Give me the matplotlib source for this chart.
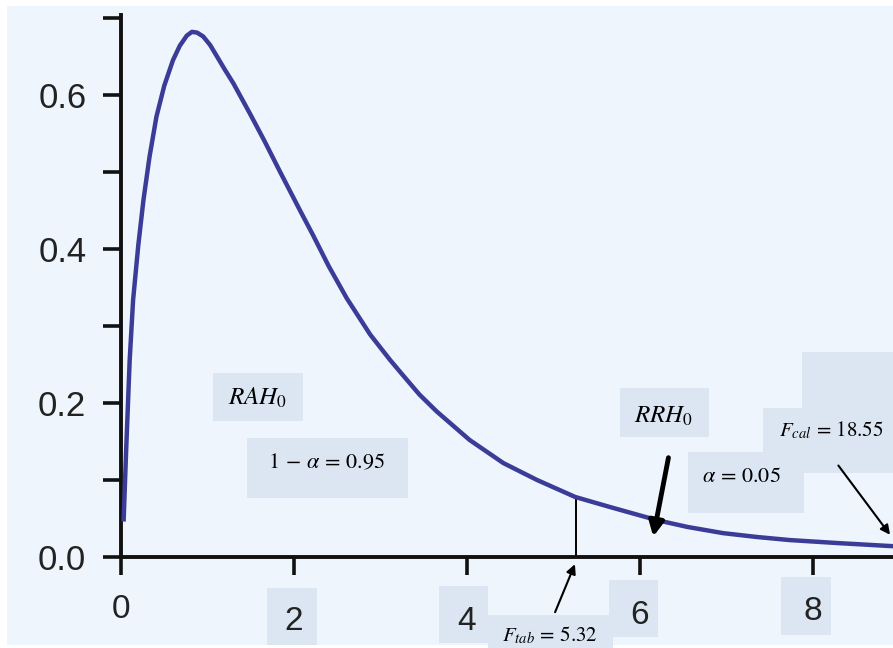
import matplotlib
matplotlib.use("Agg")
import matplotlib.pyplot as plt
import matplotlib.transforms as mtransforms
from matplotlib.patches import Rectangle
import numpy as np

# curve (F density)
curve_x = [0.03, 0.06, 0.10, 0.14, 0.20, 0.26, 0.33, 0.41, 0.50, 0.60, 0.68, 0.76,
           0.82, 0.88, 0.95, 1.03, 1.11, 1.20, 1.30, 1.49, 1.66, 1.84, 2.07, 2.22,
           2.40, 2.61, 2.88, 3.11, 3.26, 3.45, 3.65, 4.03, 4.42, 4.81, 5.25, 5.65,
           6.19, 6.55, 6.96, 7.35, 7.73, 8.30, 8.93]
curve_y = [0.046, 0.140, 0.255, 0.334, 0.405, 0.464, 0.520, 0.572, 0.612, 0.645,
           0.664, 0.677, 0.682, 0.681, 0.676, 0.665, 0.650, 0.633, 0.615, 0.576,
           0.540, 0.500, 0.450, 0.418, 0.378, 0.336, 0.289, 0.256, 0.236, 0.211,
           0.189, 0.152, 0.122, 0.100, 0.078, 0.065, 0.048, 0.039, 0.031, 0.026,
           0.022, 0.018, 0.014]

x_ticks = [0, 2, 4, 6, 8]
x_labels = ["0", "2", "4", "6", "8"]
y_ticks = [0.0, 0.2, 0.4, 0.6]
y_labels = ["0.0", "0.2", "0.4", "0.6"]
y_minor = [0.1, 0.3, 0.5, 0.7]

f_tab = 5.32
f_tab_line = 5.26   # where the marker line sits in the picture
f_cal = 18.55
alpha = 0.05

W, H = 893, 648
BG = "#eff5fc"
BOX = "#dbe6f2"
CURVE = "#3b3c98"

plt.rcParams["mathtext.fontset"] = "stix"
plt.rcParams["font.family"] = ["Liberation Sans", "DejaVu Sans"]


def fx(x):
    return x / W


def fy(y):
    return 1 - y / H


def box(fig, x0, y0, x1, y1):
    fig.add_artist(Rectangle((fx(x0), fy(y1)), (x1 - x0) / W, (y1 - y0) / H,
                             transform=fig.transFigure, fc=BOX, ec="none", zorder=-1))


fig = plt.figure(figsize=(W / 100, H / 100), dpi=100, facecolor="white")
fig.add_artist(Rectangle((fx(7), fy(645)), (W - 7) / W, (645 - 6) / H,
                         transform=fig.transFigure, fc=BG, ec="none", zorder=-2))

# label boxes
box(fig, 267, 588, 317, 645)
box(fig, 439, 586, 488, 643)
box(fig, 488, 615, 613, 648)
box(fig, 609, 580, 658, 637)
box(fig, 781, 577, 831, 635)
box(fig, 213, 373, 303, 421)
box(fig, 247, 438, 408, 498)
box(fig, 620, 388, 709, 437)
box(fig, 688, 452, 804, 513)
box(fig, 763, 408, 893, 473)
box(fig, 802, 352, 893, 408)

ax = fig.add_axes([fx(121), 1 - 557 / H, 772 / W, 542 / H])
ax.patch.set_alpha(0)

ax.plot(curve_x, curve_y, color=CURVE, lw=3.2, solid_capstyle="butt",
        solid_joinstyle="round", zorder=3)

# critical value marker
ax.plot([f_tab_line, f_tab_line], [0, np.interp(f_tab_line, curve_x, curve_y)],
        color="black", lw=1.4, zorder=2)

ax.set_xlim(0, 772 / 86.5)
ax.set_ylim(0, 542 / 770)

for s in ["top", "right"]:
    ax.spines[s].set_visible(False)
for s in ["left", "bottom"]:
    ax.spines[s].set_linewidth(2.8)
    ax.spines[s].set_color("#111111")

ax.set_yticks(y_ticks)
ax.set_yticklabels(y_labels)
ax.set_yticks(y_minor, minor=True)
ax.tick_params(axis="y", which="both", length=13, width=2.6, color="#111111",
               labelsize=25, pad=12, labelcolor="#222222")
ax.set_xticks(x_ticks)
ax.set_xticklabels([])
ax.tick_params(axis="x", length=13, width=2.6, color="#111111")

# x tick labels sit at uneven heights in the picture
lab_y = [610, 622, 622, 615, 612]
trans = mtransforms.blended_transform_factory(ax.transData, fig.transFigure)
for xt, lab, ly in zip(x_ticks, x_labels, lab_y):
    ax.text(xt, fy(ly), lab, transform=trans, ha="center", va="center",
            fontsize=24, color="#222222", clip_on=False)

# annotations
fig.text(fx(258), fy(398), r"$RAH_0$", ha="center", va="center", fontsize=18)
fig.text(fx(327), fy(463), r"$1\,-\,\alpha\,=\,0.95$", ha="center", va="center", fontsize=16)
fig.text(fx(664), fy(416), r"$RRH_0$", ha="center", va="center", fontsize=18)
fig.text(fx(741), fy(476), r"$\alpha\,=\,%.2f$" % alpha, ha="center", va="center", fontsize=16)
fig.text(fx(831), fy(430), r"$F_{cal}\,=\,%.2f$" % f_cal, ha="center", va="center", fontsize=15)
fig.text(fx(550), fy(635), r"$F_{tab}\,=\,%.2f$" % f_tab, ha="center", va="center", fontsize=15)

ax.annotate("", xy=(f_tab_line, -0.006), xytext=(5.006, -0.075),
            arrowprops=dict(arrowstyle="-|>", color="black", lw=1.5, mutation_scale=14),
            annotation_clip=False)
ax.annotate("", xy=(6.147, 0.023), xytext=(6.335, 0.1325),
            arrowprops=dict(arrowstyle="-|>", color="black", lw=3.5, mutation_scale=22),
            annotation_clip=False)
ax.annotate("", xy=(8.91, 0.026), xytext=(8.274, 0.1217),
            arrowprops=dict(arrowstyle="-|>", color="black", lw=1.5, mutation_scale=14),
            annotation_clip=False)

fig.savefig("out.png", dpi=100, facecolor=fig.get_facecolor())
